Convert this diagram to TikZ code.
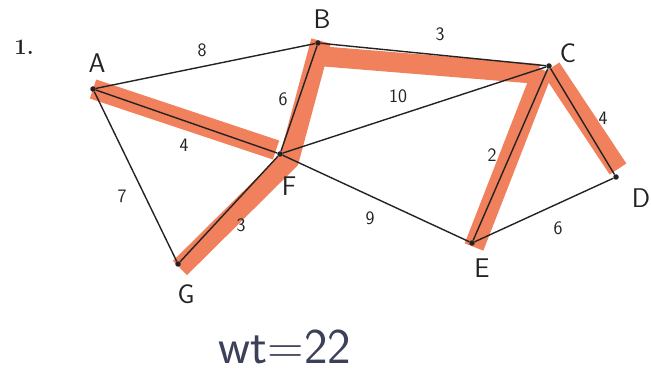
\documentclass[tikz,border=0pt]{standalone}
\usetikzlibrary{backgrounds}
\definecolor{hilite}{RGB}{241,128,92}
\definecolor{ink}{RGB}{35,35,35}
\definecolor{penblue}{RGB}{60,64,88}
\tikzset{
  vertex/.style = {circle, fill=ink, inner sep=0pt, minimum size=5.5pt},
  vname/.style  = {font=\sffamily\fontsize{27}{27}\selectfont, text=ink},
  weight/.style = {font=\sffamily\fontsize{19}{19}\selectfont, text=ink},
  edge/.style   = {draw=ink, line width=1.4pt},
  mst/.style    = {draw=hilite, line width=20pt}
}

\begin{document}
\begin{tikzpicture}[x=1pt, y=-1pt]
\useasboundingbox (0,0) rectangle (651,374);

% vertices
\node[vertex] at ( 93, 89) (A) {};
\node[vertex] at (318, 43) (B) {};
\node[vertex] at (549, 66) (C) {};
\node[vertex] at (616,177) (D) {};
\node[vertex] at (472,243) (E) {};
\node[vertex] at (280,154) (F) {};
\node[vertex] at (178,264) (G) {};

\node[vname] at ( 97, 63) (lA) {A};
\node[vname] at (322, 19) (lB) {B};
\node[vname] at (568, 53) (lC) {C};
\node[vname] at (641,198) (lD) {D};
\node[vname] at (482,268) (lE) {E};
\node[vname] at (289,186) (lF) {F};
\node[vname] at (186,294) (lG) {G};

% spanning tree highlight
\begin{scope}[on background layer]
\draw[mst] (A.center) -- ([xshift=-4pt, yshift=4pt]F.center);
\draw[mst] ([xshift=3pt, yshift=2pt]B.center) -- ([xshift=9pt, yshift=-6pt]F.center) -- ([xshift=2pt, yshift=-4pt]G.center);
\draw[mst] ([yshift=-13pt]B.center) -- ([xshift=-10pt, yshift=-8pt]C.center);
\draw[mst] ([xshift=-6pt, yshift=-4pt]C.center) -- ([xshift=2pt, yshift=-4pt]E.center);
\draw[mst] ([xshift=2pt, yshift=-2pt]C.center) -- ([xshift=2pt, yshift=8pt]D.center);
\end{scope}

% edges
\draw[edge] (A) -- (B);
\draw[edge] (A) -- (F);
\draw[edge] (A) -- (G);
\draw[edge] (B) -- (F);
\draw[edge] (B) -- (C);
\draw[edge] (F) -- (C);
\draw[edge] (F) -- (G);
\draw[edge] (F) -- (E);
\draw[edge] (C) -- (E);
\draw[edge] (C) -- (D);
\draw[edge] (E) -- (D);

% weights
\node[weight] at (202, 50) (wAB) {8};
\node[weight] at (184,145) (wAF) {4};
\node[weight] at (122,196) (wAG) {7};
\node[weight] at (283, 99) (wBF) {6};
\node[weight] at (440, 34) (wBC) {3};
\node[weight] at (398, 96) (wFC) {10};
\node[weight] at (241,225) (wFG) {3};
\node[weight] at (370,218) (wFE) {9};
\node[weight] at (492,155) (wCE) {2};
\node[weight] at (603,118) (wCD) {4};
\node[weight] at (558,228) (wED) {6};

\node[font=\bfseries\fontsize{22}{22}\selectfont, text=ink] at (24, 47) (num) {1.};
\node[font=\sffamily\fontsize{50}{50}\selectfont, text=penblue] at (285,347) (total) {wt=22};
\end{tikzpicture}
\end{document}
